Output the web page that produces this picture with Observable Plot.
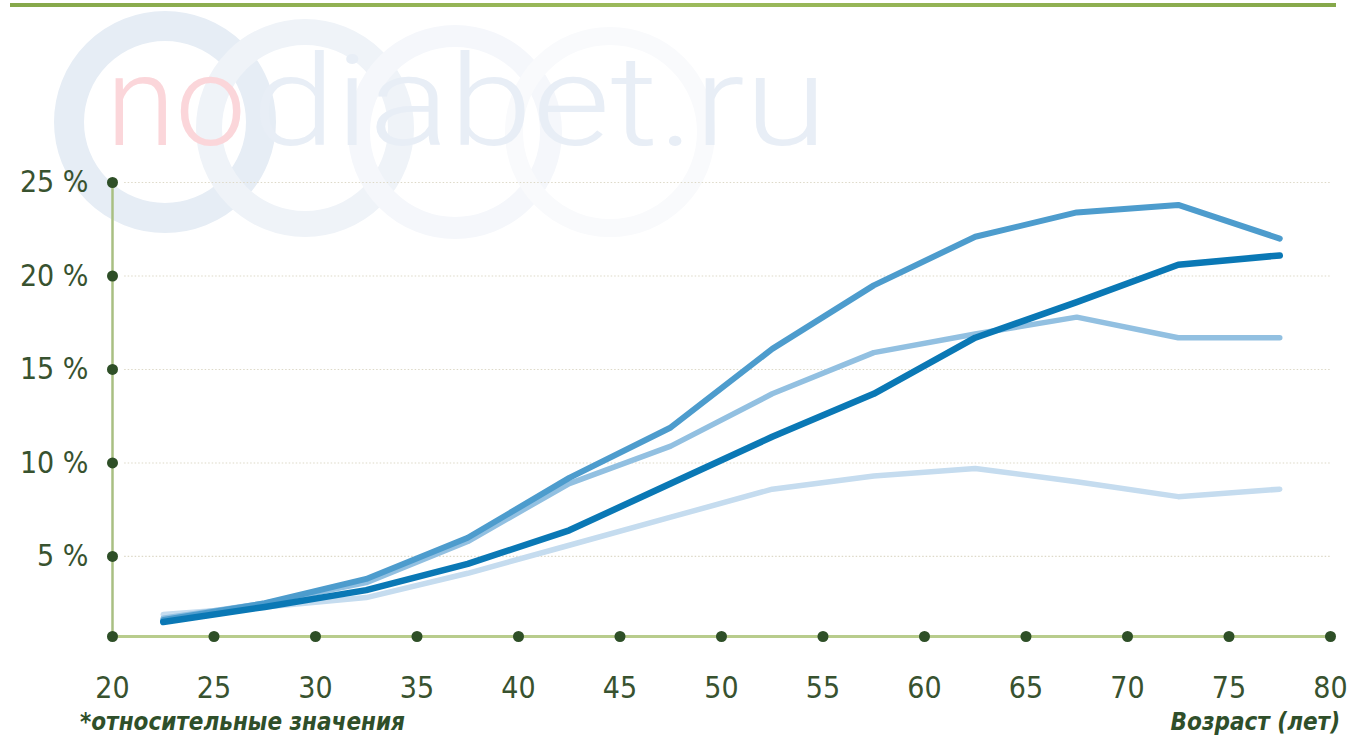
<!DOCTYPE html>
<html>
<head>
<meta charset="utf-8">
<script src="https://cdn.jsdelivr.net/npm/d3@7"></script>
<script src="https://cdn.jsdelivr.net/npm/@observablehq/plot@0.6"></script>
<style>
  html, body { margin: 0; padding: 0; background: #fff; }
  #wrap { position: relative; width: 1348px; height: 741px; overflow: hidden; background: #fff; }
  #topbar { position: absolute; left: 10px; top: 3px; width: 1326px; height: 4px; background: linear-gradient(to right, #86a84a, #9dbb5c, #86a84a); }
  #wm { position: absolute; left: 0; top: 0; width: 1348px; height: 260px; pointer-events: none; }
  #chart { position: absolute; left: 0; top: 0; }
  .cap { position: absolute; font-family: "Liberation Sans Narrow", "DejaVu Sans Condensed", sans-serif; font-weight: bold; font-style: italic; font-size: 24px; color: #2f4f2a; }
</style>
</head>
<body>
<div id="wrap">
  <svg id="wm" width="1348" height="260">
    <circle cx="165" cy="122" r="96" fill="none" stroke="#e6edf5" stroke-width="30"/>
    <circle cx="305" cy="128" r="96" fill="none" stroke="#eff3f8" stroke-width="26"/>
    <circle cx="455" cy="132" r="96" fill="none" stroke="#f5f7fb" stroke-width="22"/>
    <circle cx="610" cy="132" r="96" fill="none" stroke="#f9fafc" stroke-width="18"/>
    <text x="106" y="145" font-family="Roboto, 'DejaVu Sans', sans-serif" font-weight="300" font-size="126" fill="#fbd6da" textLength="140" lengthAdjust="spacingAndGlyphs">no</text>
    <text x="252" y="145" font-family="Roboto, 'DejaVu Sans', sans-serif" font-weight="300" font-size="126" fill="#e8eef6" textLength="575" lengthAdjust="spacingAndGlyphs">diabet.ru</text>
  </svg>
  <div id="topbar"></div>
  <div id="chart"></div>
  <div class="cap" style="left:80px; top:708px;">*относительные значения</div>
  <div class="cap" style="right:8px; top:708px;">Возраст (лет)</div>
</div>
<script>
const ages = [22.5, 27.5, 32.5, 37.5, 42.5, 47.5, 52.5, 57.5, 62.5, 67.5, 72.5, 77.5];
const seriesTop    = [1.6, 2.5, 3.8, 6.0, 9.2, 11.9, 16.1, 19.5, 22.1, 23.4, 23.8, 22.0];
const seriesMain   = [1.5, 2.3, 3.2, 4.6, 6.4, 8.9, 11.4, 13.7, 16.7, 18.6, 20.6, 21.1];
const seriesMid    = [1.7, 2.5, 3.6, 5.8, 8.9, 10.9, 13.7, 15.9, 16.9, 17.8, 16.7, 16.7];
const seriesLight  = [1.9, 2.3, 2.8, 4.1, 5.6, 7.1, 8.6, 9.3, 9.7, 9.0, 8.2, 8.6];
const seriesNames  = ["light", "mid", "top", "main"];
const seriesColors = ["#c5dcef", "#92c0e1", "#4d9ccd", "#0a78b5"];
const seriesWidths = [5.5, 5.5, 6, 6.5];
const xTicks = [20, 25, 30, 35, 40, 45, 50, 55, 60, 65, 70, 75, 80];
const yTicks = [5, 10, 15, 20, 25];

const valuesByName = { light: seriesLight, mid: seriesMid, top: seriesTop, main: seriesMain };
const yMin = 0.72;

const marks = [
  Plot.ruleY(yTicks, { x1: 20.6, x2: 80, stroke: "#ddd9c8", strokeWidth: 1.2, strokeDasharray: "1.5,2" }),
  Plot.ruleX([20], { y1: yMin, y2: 25, stroke: "#a9bf82", strokeWidth: 2.5 }),
  Plot.ruleY([yMin], { x1: 20, x2: 80, stroke: "#b8cc8c", strokeWidth: 3 }),
];
seriesNames.forEach((name, i) => {
  const data = ages.map((a, j) => ({ age: a, v: valuesByName[name][j] }));
  marks.push(Plot.line(data, { x: "age", y: "v", stroke: seriesColors[i], strokeWidth: seriesWidths[i], strokeLinecap: "round", strokeLinejoin: "round" }));
});
marks.push(
  Plot.dot(xTicks, { x: d => d, y: () => yMin, r: 5.5, fill: "#2e4f27" }),
  Plot.dot(yTicks, { x: () => 20, y: d => d, r: 5.5, fill: "#2e4f27" }),
  Plot.text(xTicks, { x: d => d, y: () => yMin, text: d => String(d), dy: 52, fontSize: 30, fill: "#38522f" }),
  Plot.text(yTicks, { x: () => 20, y: d => d, text: d => d + " %", textAnchor: "end", dx: -24, fontSize: 30, fill: "#38522f" })
);

const chart = Plot.plot({
  width: 1348,
  height: 741,
  marginLeft: 112,
  marginRight: 18,
  marginTop: 182,
  marginBottom: 105,
  x: { domain: [20, 80], axis: null },
  y: { domain: [yMin, 25], axis: null },
  style: { fontFamily: "'Liberation Sans Narrow', 'DejaVu Sans Condensed', sans-serif", background: "transparent" },
  marks
});
document.getElementById("chart").appendChild(chart);
</script>
</body>
</html>
